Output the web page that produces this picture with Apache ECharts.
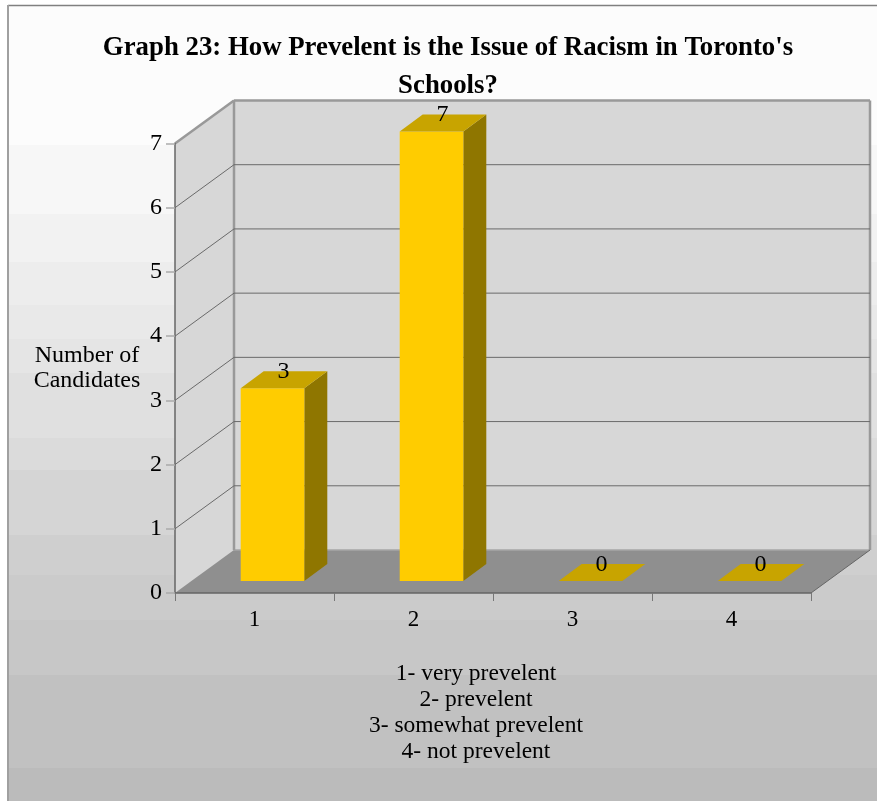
<!DOCTYPE html>
<html><head><meta charset="utf-8">
<style>html,body{margin:0;padding:0;background:#fff}#c{width:877px;height:801px}</style>
<script src="https://cdn.jsdelivr.net/npm/echarts@6/dist/echarts.min.js"></script>
</head><body><div id="c"></div>
<script>
const titleLines = ["Graph 23: How Prevelent is the Issue of Racism in Toronto's", "Schools?"];
const categories = ["1", "2", "3", "4"];
const candidates = [3, 7, 0, 0];
const yTicks = [1, 2, 3, 4, 5, 6, 7];
const yAxisName = ["Number of", "Candidates"];
const keyLines = ["1- very prevelent", "2- prevelent", "3- somewhat prevelent", "4- not prevelent"];

const SERIF = '"Liberation Serif","Times New Roman",serif';
const DX = 59, DY = -43;
const bands = [[6,145,'#FCFCFC'],[145,214,'#F7F7F7'],[214,262,'#F2F2F2'],[262,305,'#EDEDED'],[305,339,'#E9E9E9'],
  [339,373,'#E5E5E5'],[373,438,'#E0E0E0'],[438,470,'#DBDBDB'],[470,535,'#D5D5D5'],[535,575,'#CFCFCF'],
  [575,620,'#CBCBCB'],[620,675,'#C7C7C7'],[675,768,'#C1C1C1'],[768,801,'#BBBBBB']];

const bgGraphics = bands.map(b => ({type:'rect', z:-10, silent:true,
  shape:{x:8,y:b[0],width:869,height:b[1]-b[0]}, style:{fill:b[2]}}));
bgGraphics.push({type:'line', z:-9, silent:true, shape:{x1:8,y1:5.5,x2:877,y2:5.5}, style:{stroke:'#808080',lineWidth:1.5}});
bgGraphics.push({type:'line', z:-9, silent:true, shape:{x1:8,y1:5,x2:8,y2:801}, style:{stroke:'#A0A0A0',lineWidth:2}});

function wallItem(params, api) {
  const g = params.coordSys, x0 = g.x, x1 = g.x + g.width, yT = g.y, yB = g.y + g.height;
  const poly = (pts, fill) => ({type:'polygon', shape:{points:pts}, style:{fill:fill}, silent:true});
  const ln = (a, b, c, w) => ({type:'line', shape:{x1:a[0],y1:a[1],x2:b[0],y2:b[1]}, style:{stroke:c,lineWidth:w}, silent:true});
  return {type:'group', children:[
    poly([[x0+DX,yT+DY],[x1+DX,yT+DY],[x1+DX,yB+DY],[x0+DX,yB+DY]], '#D7D7D7'),
    poly([[x0,yT],[x0+DX,yT+DY],[x0+DX,yB+DY],[x0,yB]], '#D7D7D7'),
    poly([[x0,yB],[x1,yB],[x1+DX,yB+DY],[x0+DX,yB+DY]], '#8F8F8F'),
    ln([x0+DX,yB+DY],[x1+DX,yB+DY],'#A6A6A6',1.5),
    ln([x0+DX,yT+DY],[x0+DX,yB+DY],'#999999',2.5),
    ln([x0+DX,yT+DY],[x1+DX,yT+DY],'#999999',2.5),
    ln([x1+DX,yT+DY],[x1+DX,yB+DY],'#999999',2.5),
    ln([x0,yT],[x0+DX,yT+DY],'#999999',2.5),
    ln([x1,yB],[x1+DX,yB+DY],'#666666',1)
  ]};
}
function gridItem(params, api) {
  const g = params.coordSys, y = api.coord([0, api.value(0)])[1], x0 = g.x, x1 = g.x + g.width;
  const kids = [{type:'polyline', shape:{points:[[x0,y],[x0+DX,y+DY],[x1+DX,y+DY]]},
    style:{stroke:'#6A6A6A',lineWidth:1,fill:null}, silent:true}];
  return {type:'group', children:kids};
}
function barItem(params, api) {
  const c = api.coord([api.value(0), api.value(1)]), base = api.coord([api.value(0), 0]);
  const w = api.size([1, 0])[0] * 0.4;
  const frontDy = -12, frontCx = base[0] + 18, dDx = 23, dDy = -17;
  const l = frontCx - w/2, r = frontCx + w/2, b = base[1] + frontDy, t = c[1] + frontDy;
  const kids = [];
  if (api.value(1) > 0) {
    kids.push({type:'polygon', shape:{points:[[r,t],[r+dDx,t+dDy],[r+dDx,b+dDy],[r,b]]}, style:{fill:'#8F7600'}});
    kids.push({type:'polygon', shape:{points:[[l,t],[r,t],[r,b],[l,b]]}, style:{fill:'#FFCC00'}});
  }
  kids.push({type:'polygon', shape:{points:[[l,t],[r,t],[r+dDx,t+dDy],[l+dDx,t+dDy]]}, style:{fill:'#C8A400'}});
  kids.push({type:'text', z2:10, style:{text:String(api.value(1)), x:(l+r+dDx)/2 - 0.5, y:t+dDy+0.5,
    align:'center', verticalAlign:'middle', font:'24px '+SERIF, fill:'#000'}});
  return {type:'group', children:kids};
}

const chart = echarts.init(document.getElementById('c'), null, {renderer:'canvas'});
chart.setOption({
  animation:false,
  backgroundColor:'#fff',
  graphic:bgGraphics,
  title:[
    {text:titleLines.join('\n'), left:443, top:24, textAlign:'center',
     textStyle:{fontFamily:SERIF,fontSize:26.8,fontWeight:'bold',color:'#000',lineHeight:38}},
    {text:keyLines.join('\n'), left:471, top:656, textAlign:'center',
     textStyle:{fontFamily:SERIF,fontSize:23.5,fontWeight:'normal',color:'#000',lineHeight:26}}
  ],
  grid:{left:175, top:143.5, width:636, height:449.5, containLabel:false},
  xAxis:{type:'category', data:categories, z:5,
    axisLine:{lineStyle:{color:'#666666',width:1.5}},
    axisTick:{show:true, alignWithLabel:false, length:8, lineStyle:{color:'#777777',width:1}},
    axisLabel:{fontFamily:SERIF,fontSize:23,color:'#000',margin:15}},
  yAxis:{type:'value', min:0, max:7, interval:1, z:5,
    name:yAxisName.join('\n'), nameLocation:'middle', nameRotate:0, nameGap:88,
    nameTextStyle:{fontFamily:SERIF,fontSize:24,color:'#000',lineHeight:25,align:'center',verticalAlign:'middle',padding:[6,0,0,0]},
    axisLine:{show:true,lineStyle:{color:'#666666',width:1.5}},
    axisTick:{show:true,length:9,lineStyle:{color:'#AAAAAA',width:1.5}},
    axisLabel:{fontFamily:SERIF,fontSize:24,color:'#000',margin:13},
    splitLine:{show:false}},
  series:[
    {type:'custom', z:1, silent:true, renderItem:wallItem, data:[[0]], encode:{x:0}, clip:false},
    {type:'custom', z:2, silent:true, renderItem:gridItem, data:yTicks.slice(0,-1).map(v=>[v]), encode:{y:0}, clip:false},
    {type:'custom', z:3, renderItem:barItem, data:candidates.map((v,i)=>[i,v]), encode:{x:0,y:1}, clip:false}
  ]
});
</script></body></html>
